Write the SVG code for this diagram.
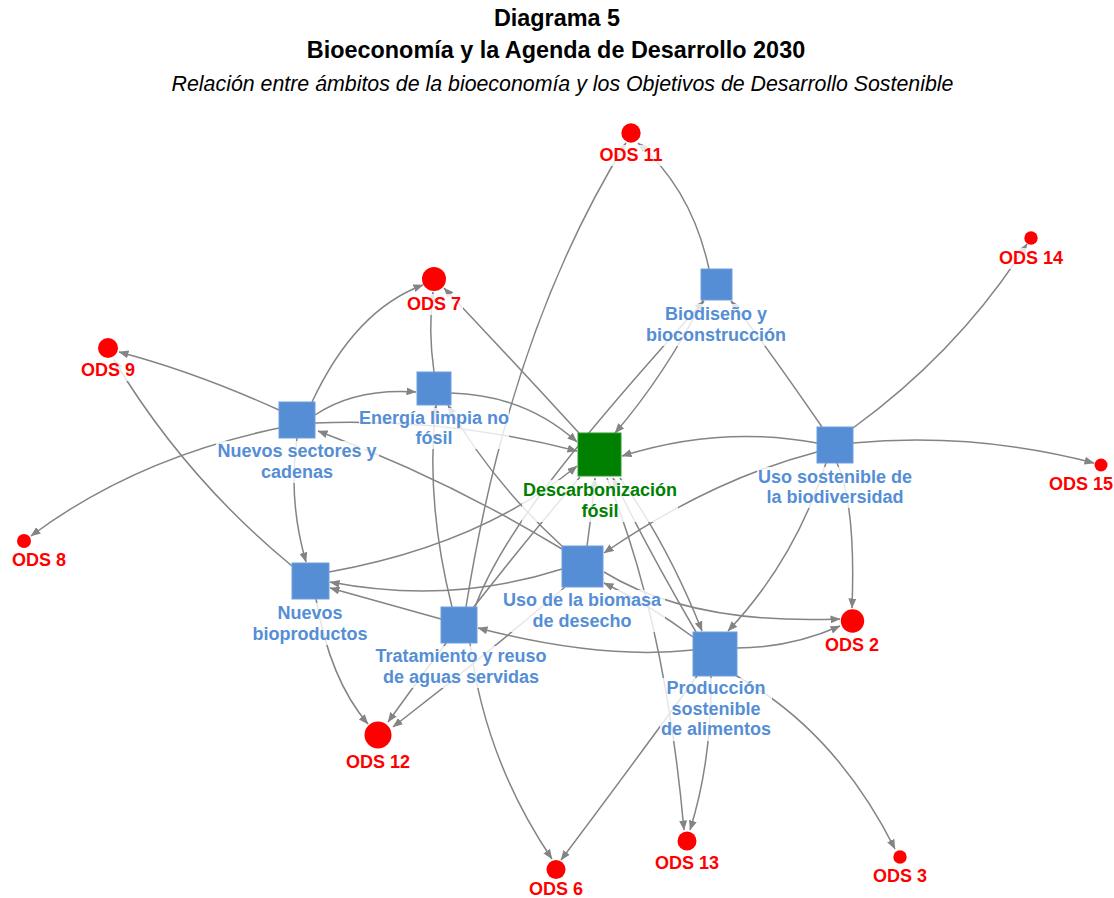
<svg xmlns="http://www.w3.org/2000/svg" width="1114" height="898" viewBox="0 0 1114 898">
<defs>
<marker id="ah" viewBox="0 0 10 8" refX="9.5" refY="4" markerWidth="10" markerHeight="8" markerUnits="userSpaceOnUse" orient="auto"><path d="M0,0 L10,4 L0,8 z" fill="#848484"/></marker>
<style>
.e{fill:none;stroke:#848484;stroke-width:1.5;marker-end:url(#ah)}
.sq{fill:#558ED5;stroke:#6E9FDE;stroke-width:1}
.sg{fill:#008000;stroke:#2E9A2E;stroke-width:1}
.c{fill:#FF0000}
.bg{fill:#fff;fill-opacity:0.8}
.t{font-family:"Liberation Sans",Arial,sans-serif;font-weight:bold;font-size:18px;text-anchor:middle}
.b{fill:#558ED5}.g{fill:#008000}.r{fill:#FF0000}
.h1{font-family:"Liberation Sans",Arial,sans-serif;font-weight:bold;font-size:23.4px;text-anchor:middle;fill:#000}
.h2{font-family:"Liberation Sans",Arial,sans-serif;font-style:italic;font-size:21.35px;text-anchor:middle;fill:#000}
</style>
</defs>
<rect width="1114" height="898" fill="#fff"/>
<g id="title">
<text class="h1" x="557" y="26">Diagrama 5</text>
<text class="h1" x="556" y="58">Bioeconomía y la Agenda de Desarrollo 2030</text>
<text class="h2" x="562.5" y="91">Relación entre ámbitos de la bioeconomía y los Objetivos de Desarrollo Sostenible</text>
</g>
<g id="connectors">
<path class="e" d="M709 269 Q692 190 638 143"/>
<path class="e" d="M466 607 Q510 330 626 143"/>
<path class="e" d="M312 402 Q355 310 423 285"/>
<path class="e" d="M434 372 Q428 330 433 292"/>
<path class="e" d="M579 433 Q512 360 444 288"/>
<path class="e" d="M279 410 Q195 372 119 352"/>
<path class="e" d="M292 566 Q185 478 114 360"/>
<path class="e" d="M279 428 Q135 458 31 536"/>
<path class="e" d="M297 438 Q288 500 306 562"/>
<path class="e" d="M562 549 Q445 478 318 431"/>
<path class="e" d="M329 572 Q480 545 577 466"/>
<path class="e" d="M562 569 Q450 605 330 582"/>
<path class="e" d="M441 619 Q390 605 330 588"/>
<path class="e" d="M316 599 Q330 680 368 724"/>
<path class="e" d="M580 477 Q478 596 388 722"/>
<path class="e" d="M565 587 Q480 660 393 727"/>
<path class="e" d="M587 546 Q592 510 595 478"/>
<path class="e" d="M563 547 Q490 480 448 405"/>
<path class="e" d="M452 607 Q425 500 436 405"/>
<path class="e" d="M451 393 Q525 395 577 442"/>
<path class="e" d="M315 415 Q355 388 416 392"/>
<path class="e" d="M315 423 Q450 418 577 451"/>
<path class="e" d="M703 300 Q665 375 615 433"/>
<path class="e" d="M475 607 C500 540 560 460 704 301"/>
<path class="e" d="M822 427 Q762 340 731 301"/>
<path class="e" d="M817 443 Q720 425 622 456"/>
<path class="e" d="M817 452 Q710 480 604 553"/>
<path class="e" d="M826 463 Q795 560 728 631"/>
<path class="e" d="M837 463 Q856 505 852 608"/>
<path class="e" d="M853 428 Q960 350 1027 244"/>
<path class="e" d="M853 443 Q975 432 1094 463"/>
<path class="e" d="M604 572 Q690 625 840 619"/>
<path class="e" d="M737 648 Q790 648 840 626"/>
<path class="e" d="M693 650 Q600 660 478 628"/>
<path class="e" d="M693 637 Q650 605 604 583"/>
<path class="e" d="M696 632 Q648 550 613 478"/>
<path class="e" d="M620 478 Q668 545 702 631"/>
<path class="e" d="M607 478 Q665 620 684 830"/>
<path class="e" d="M711 676 Q712 760 690 830"/>
<path class="e" d="M697 676 Q625 775 561 860"/>
<path class="e" d="M470 643 Q485 760 552 859"/>
<path class="e" d="M735 675 Q835 730 895 849"/>
</g>
<g id="n-biodiseno"><rect class="sq" x="701" y="269" width="31" height="31"/><rect class="bg" x="646" y="304" width="141" height="42"/><text class="t b" x="716" y="320">Biodiseño y</text><text class="t b" x="716" y="341">bioconstrucción</text></g>
<g id="n-energia"><rect class="sq" x="417" y="372" width="34" height="33"/><rect class="bg" x="359" y="408" width="150" height="41"/><text class="t b" x="434" y="424">Energía limpia no</text><text class="t b" x="434" y="444">fósil</text></g>
<g id="n-sectores"><rect class="sq" x="279" y="402" width="36" height="36"/><rect class="bg" x="216" y="441" width="163" height="42"/><text class="t b" x="297" y="457">Nuevos sectores y</text><text class="t b" x="297" y="478">cadenas</text></g>
<g id="n-descarb"><rect class="sg" x="578" y="433" width="43" height="43"/><rect class="bg" x="522" y="480" width="156" height="42"/><text class="t g" x="600" y="496">Descarbonización</text><text class="t g" x="600" y="517">fósil</text></g>
<g id="n-biodiv"><rect class="sq" x="817" y="427" width="36" height="36"/><rect class="bg" x="757" y="467" width="156" height="41"/><text class="t b" x="835" y="483">Uso sostenible de</text><text class="t b" x="835" y="503">la biodiversidad</text></g>
<g id="n-bioproductos"><rect class="sq" x="292" y="563" width="37" height="36"/><rect class="bg" x="252" y="603" width="117" height="42"/><text class="t b" x="310" y="619">Nuevos</text><text class="t b" x="310" y="640">bioproductos</text></g>
<g id="n-biomasa"><rect class="sq" x="562" y="546" width="41" height="41"/><rect class="bg" x="500" y="590" width="165" height="42"/><text class="t b" x="582" y="606">Uso de la biomasa</text><text class="t b" x="582" y="627">de desecho</text></g>
<g id="n-tratamiento"><rect class="sq" x="441" y="607" width="36" height="36"/><rect class="bg" x="375" y="646" width="173" height="42"/><text class="t b" x="461" y="662">Tratamiento y reuso</text><text class="t b" x="461" y="683">de aguas servidas</text></g>
<g id="n-produccion"><rect class="sq" x="693" y="632" width="44" height="44"/><rect class="bg" x="660" y="678" width="112" height="63"/><text class="t b" x="716" y="694">Producción</text><text class="t b" x="716" y="715">sostenible</text><text class="t b" x="716" y="735">de alimentos</text></g>
<g id="ods11"><circle class="c" cx="631" cy="133" r="9.7"/><rect class="bg" x="599" y="145" width="64" height="21"/><text class="t r" x="631" y="161">ODS 11</text></g>
<g id="ods7"><circle class="c" cx="434" cy="279" r="12"/><rect class="bg" x="405" y="294" width="58" height="21"/><text class="t r" x="434" y="310">ODS 7</text></g>
<g id="ods14"><circle class="c" cx="1031" cy="238" r="6.7"/><rect class="bg" x="999" y="248" width="64" height="21"/><text class="t r" x="1031" y="264">ODS 14</text></g>
<g id="ods9"><circle class="c" cx="108" cy="348" r="10"/><rect class="bg" x="81" y="360" width="54" height="21"/><text class="t r" x="108" y="376">ODS 9</text></g>
<g id="ods15"><circle class="c" cx="1101" cy="465" r="6.5"/><rect class="bg" x="1049" y="474" width="64" height="21"/><text class="t r" x="1081" y="490">ODS 15</text></g>
<g id="ods8"><circle class="c" cx="24" cy="541" r="7"/><rect class="bg" x="12" y="550" width="54" height="21"/><text class="t r" x="39" y="566">ODS 8</text></g>
<g id="ods2"><circle class="c" cx="852.5" cy="621" r="11.7"/><rect class="bg" x="825" y="635" width="54" height="21"/><text class="t r" x="852" y="651">ODS 2</text></g>
<g id="ods12"><circle class="c" cx="378" cy="735" r="13.5"/><rect class="bg" x="346" y="752" width="64" height="21"/><text class="t r" x="378" y="768">ODS 12</text></g>
<g id="ods13"><circle class="c" cx="687" cy="841" r="9.5"/><rect class="bg" x="655" y="853" width="64" height="21"/><text class="t r" x="687" y="869">ODS 13</text></g>
<g id="ods3"><circle class="c" cx="900" cy="857" r="6.7"/><rect class="bg" x="873" y="866" width="54" height="21"/><text class="t r" x="900" y="882">ODS 3</text></g>
<g id="ods6"><circle class="c" cx="556" cy="869.5" r="9.5"/><rect class="bg" x="529" y="879" width="54" height="19"/><text class="t r" x="556" y="895">ODS 6</text></g>
</svg>
